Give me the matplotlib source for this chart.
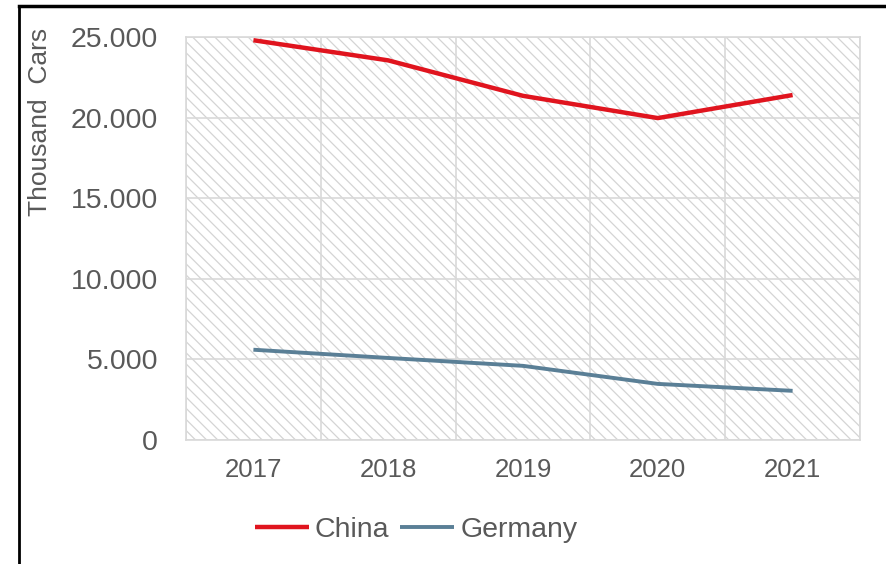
import numpy as np
import matplotlib
matplotlib.use("Agg")
import matplotlib.pyplot as plt
from matplotlib.patches import Rectangle
from matplotlib.lines import Line2D
from matplotlib.ticker import FuncFormatter

years = ["2017", "2018", "2019", "2020", "2021"]
china = [24800, 23550, 21350, 19970, 21400]
germany = [5600, 5090, 4600, 3480, 3050]
yticks = [0, 5000, 10000, 15000, 20000, 25000]

plt.rcParams["font.family"] = ["Liberation Sans", "DejaVu Sans"]
plt.rcParams["hatch.linewidth"] = 0.9
txt = "#595959"
grid = "#d9d9d9"

fig = plt.figure(figsize=(8.87, 5.64), dpi=100)
ax = fig.add_axes([186 / 887, 1 - 440 / 564, (860 - 186) / 887, (440 - 37) / 564])

x = np.arange(len(years))
ax.add_patch(Rectangle((0, 0), 1, 1, transform=ax.transAxes, facecolor="white",
                       edgecolor="#d4d4d4", hatch="\\\\\\", linewidth=0, zorder=0))
ax.plot(x, china, color="#e0141e", lw=3.2, label="China", zorder=3, solid_capstyle="butt")
ax.plot(x, germany, color="#5a7f96", lw=2.8, label="Germany", zorder=3, solid_capstyle="butt")

ax.set_xlim(-0.5, 4.5)
ax.set_ylim(0, 25000)
ax.set_xticks(x)
ax.set_xticklabels(years)
ax.set_xticks(np.arange(-0.5, 5, 1), minor=True)
ax.set_yticks(yticks)
ax.yaxis.set_major_formatter(FuncFormatter(lambda v, p: "{:,.0f}".format(v).replace(",", ".")))
ax.grid(True, axis="y", which="major", color=grid, lw=1.2, zorder=1)
ax.grid(True, axis="x", which="minor", color=grid, lw=1.2, zorder=1)
ax.tick_params(axis="y", length=0, labelsize=20.5, labelcolor=txt, pad=20)
ax.tick_params(axis="x", which="both", length=0, labelsize=18.5, labelcolor=txt, pad=13)
for s in ax.spines.values():
    s.set_color(grid)
    s.set_linewidth(1.2)

fig.text(40 / 887, 1 - 122 / 564, "Thousand  Cars", rotation=90, ha="center", va="center",
         fontsize=19, color=txt)

fig.legend(loc="center", bbox_to_anchor=(416 / 887, 1 - 530 / 564), ncol=2, frameon=False,
           fontsize=20.5, labelcolor=txt, handlelength=1.9, handletextpad=0.2, columnspacing=0.4)

# outer frame (left and top only)
fig.add_artist(Line2D([19 / 887, 19 / 887], [0, 1 - 6 / 564], color="black", lw=2, transform=fig.transFigure))
fig.add_artist(Line2D([19 / 887, 1], [1 - 6 / 564, 1 - 6 / 564], color="black", lw=2.5, transform=fig.transFigure))

fig.savefig("out.png", dpi=100)
